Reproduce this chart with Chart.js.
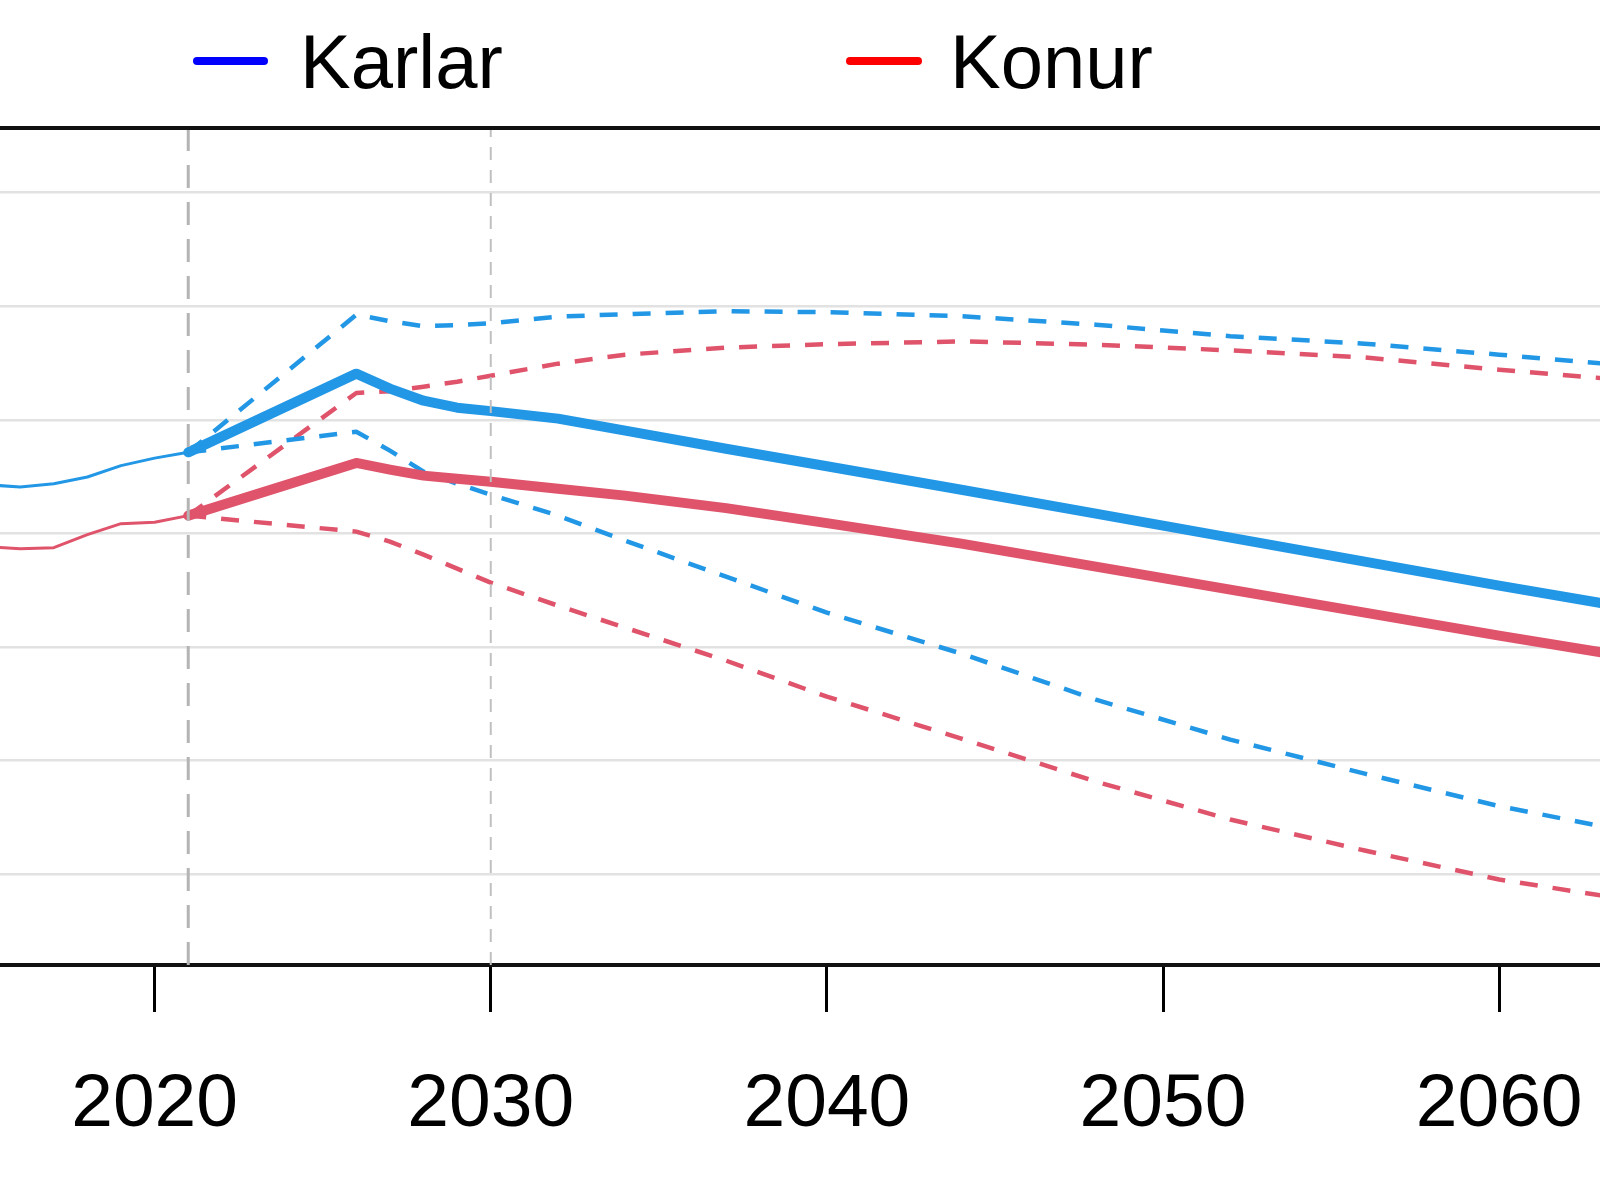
<!DOCTYPE html>
<html><head><meta charset="utf-8">
<script src="https://cdn.jsdelivr.net/npm/chart.js@4.4.1/dist/chart.umd.min.js"></script>
<style>html,body{margin:0;padding:0;background:#fff}canvas{display:block}</style>
</head><body>
<canvas id="c" width="1600" height="1180"></canvas>
<script>
// ---- data (values in grid units) ----
const seriesNames = ['Karlar', 'Konur'];
const legendColors = ['#0000FF', '#FF0000'];
const lineColors = ['#2297E6', '#DF536B'];
const xTicks = [2020, 2030, 2040, 2050, 2060];
const yGrid = [1, 2, 3, 4, 5, 6, 7];
const refYears = [2021, 2030];

const histYears = [2015, 2016, 2017, 2018, 2019, 2020, 2021];
const histKarlar = [4.429, 4.409, 4.438, 4.497, 4.597, 4.663, 4.714];
const histKonur  = [3.884, 3.866, 3.875, 3.989, 4.086, 4.099, 4.157];

const projYears  = [2021, 2026, 2027, 2028, 2029, 2030, 2032, 2034, 2037, 2040, 2044, 2048, 2052, 2056, 2060, 2064];
const medKarlar  = [4.714, 5.407, 5.275, 5.169, 5.107, 5.077, 5.011, 4.905, 4.746, 4.592, 4.385, 4.174, 3.963, 3.752, 3.540, 3.338];
const highKarlar = [4.714, 5.926, 5.869, 5.825, 5.834, 5.851, 5.909, 5.931, 5.957, 5.948, 5.913, 5.838, 5.737, 5.671, 5.574, 5.473];
const lowKarlar  = [4.714, 4.896, 4.729, 4.544, 4.438, 4.341, 4.157, 3.936, 3.619, 3.303, 2.942, 2.537, 2.185, 1.885, 1.599, 1.366];
const medKonur   = [4.157, 4.621, 4.562, 4.509, 4.482, 4.456, 4.394, 4.333, 4.223, 4.091, 3.910, 3.708, 3.505, 3.303, 3.100, 2.906];
const highKonur  = [4.157, 5.237, 5.253, 5.292, 5.336, 5.389, 5.495, 5.574, 5.636, 5.666, 5.691, 5.662, 5.612, 5.550, 5.441, 5.345];
const lowKonur   = [4.157, 4.016, 3.928, 3.813, 3.690, 3.567, 3.364, 3.170, 2.880, 2.563, 2.194, 1.815, 1.481, 1.208, 0.953, 0.767];

const xMin = 2015.4, xMax = 2063.0;
const yMin = 0.2, yMax = 7.57;

// ---- helpers ----
const pts = (xs, ys) => xs.map((x, i) => ({x: x, y: ys[i]}));
const FONT = "'Liberation Sans', Arial, Helvetica, sans-serif";

function line(data, color, width, dash, order) {
  return {data: data, borderColor: color, backgroundColor: color, borderWidth: width,
    borderDash: dash || [], pointRadius: 0, tension: 0, fill: false,
    borderJoinStyle: 'round', borderCapStyle: dash ? 'butt' : 'round', order: order};
}

const datasets = [
  line(refYears.slice(0,1).flatMap(x => [{x: x, y: yMin}, {x: x, y: yMax}]), '#b4b4b4', 3, [23, 14], 0),
  line(refYears.slice(1,2).flatMap(x => [{x: x, y: yMin}, {x: x, y: yMax}]), '#c0c0c0', 2, [13, 10], 0),
  line(pts(histYears, histKarlar), lineColors[0], 3, null, 2),
  line(pts(histYears, histKonur), lineColors[1], 3, null, 2),
  line(pts(projYears, highKarlar), lineColors[0], 4.5, [18, 15], 3),
  line(pts(projYears, lowKarlar), lineColors[0], 4.5, [18, 15], 3),
  line(pts(projYears, highKonur), lineColors[1], 4.5, [18, 15], 3),
  line(pts(projYears, lowKonur), lineColors[1], 4.5, [18, 15], 3),
  line(pts(projYears, medKarlar), lineColors[0], 10, null, 1),
  line(pts(projYears, medKonur), lineColors[1], 10, null, 1)
];

const frame = {
  id: 'frame',
  afterDraw(chart) {
    const ctx = chart.ctx, a = chart.chartArea;
    ctx.save();
    // top border of plot region
    ctx.strokeStyle = '#111'; ctx.lineWidth = 4; ctx.lineCap = 'butt';
    ctx.beginPath(); ctx.moveTo(0, a.top); ctx.lineTo(chart.width, a.top); ctx.stroke();
    // legend
    const items = [{x0: 197, x1: 264, tx: 300}, {x0: 850, x1: 918, tx: 950}];
    ctx.font = '76px ' + FONT; ctx.textBaseline = 'alphabetic'; ctx.fillStyle = '#000';
    items.forEach((it, i) => {
      ctx.strokeStyle = legendColors[i]; ctx.lineWidth = 8; ctx.lineCap = 'round';
      ctx.beginPath(); ctx.moveTo(it.x0, 61); ctx.lineTo(it.x1, 61); ctx.stroke();
      ctx.fillText(seriesNames[i], it.tx, 88);
    });
    ctx.restore();
  }
};

new Chart(document.getElementById('c'), {
  type: 'line',
  data: {datasets: datasets},
  plugins: [frame],
  options: {
    responsive: false, animation: false, devicePixelRatio: 1, events: [],
    layout: {padding: {top: 128, bottom: 0, left: 0, right: 0}},
    plugins: {legend: {display: false}, tooltip: {enabled: false}, title: {display: false}},
    scales: {
      x: {
        type: 'linear', min: xMin, max: xMax,
        afterBuildTicks: ax => { ax.ticks = xTicks.map(v => ({value: v})); },
        afterFit: ax => { ax.paddingLeft = 0; ax.paddingRight = 0; ax.height = 215; },
        grid: {display: true, drawOnChartArea: false, drawTicks: true, tickLength: 47, tickColor: '#000', tickWidth: 3, color: '#000'},
        border: {display: true, color: '#111', width: 4},
        ticks: {font: {size: 75, family: FONT}, color: '#000', padding: 48, maxRotation: 0, autoSkip: false,
                callback: v => String(v)}
      },
      y: {
        type: 'linear', min: yMin, max: yMax,
        afterBuildTicks: ax => { ax.ticks = yGrid.map(v => ({value: v})); },
        afterFit: ax => { ax.width = 0; },
        grid: {color: '#e2e2e2', lineWidth: 2.5, drawTicks: false},
        border: {display: false},
        ticks: {display: false}
      }
    }
  }
});
</script>
</body></html>
